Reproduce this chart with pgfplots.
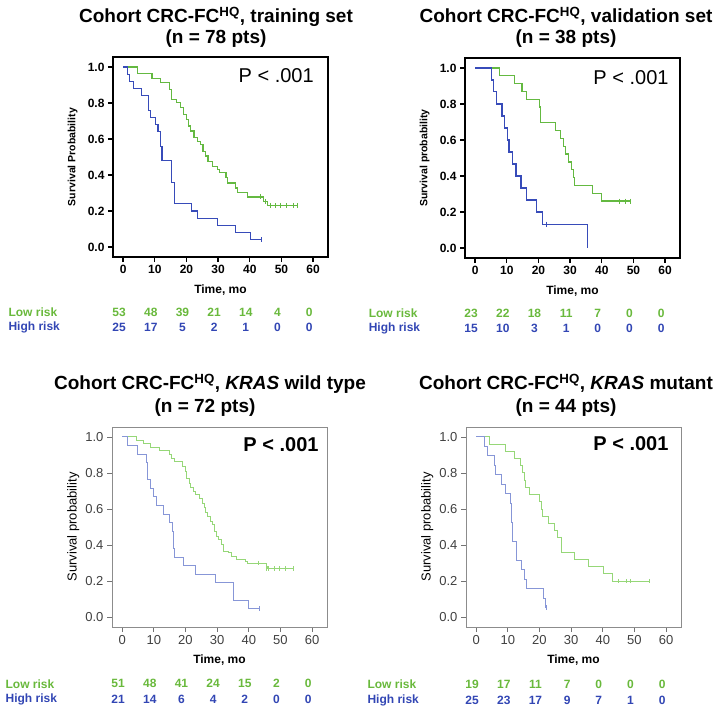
\documentclass[border=0pt]{standalone}
\usepackage{fontspec}
\setmainfont{Liberation Sans}
\usepackage{pgfplots}
\pgfplotsset{compat=1.18}
\definecolor{tg}{RGB}{100,185,65}
\definecolor{tb}{RGB}{55,75,185}
\definecolor{lg}{RGB}{150,215,120}
\definecolor{lb}{RGB}{135,150,215}
\definecolor{rg}{RGB}{105,185,60}
\definecolor{rb}{RGB}{50,70,180}
\newcommand{\riskrow}[9]{%
 \node[text=#1,font=\bfseries\fontsize{12}{12}\selectfont,anchor=center,xshift=-4pt] at (axis cs:0,#2) {#3};
 \node[text=#1,font=\bfseries\fontsize{12}{12}\selectfont,anchor=center,xshift=-4pt] at (axis cs:10,#2) {#4};
 \node[text=#1,font=\bfseries\fontsize{12}{12}\selectfont,anchor=center,xshift=-4pt] at (axis cs:20,#2) {#5};
 \node[text=#1,font=\bfseries\fontsize{12}{12}\selectfont,anchor=center,xshift=-4pt] at (axis cs:30,#2) {#6};
 \node[text=#1,font=\bfseries\fontsize{12}{12}\selectfont,anchor=center,xshift=-4pt] at (axis cs:40,#2) {#7};
 \node[text=#1,font=\bfseries\fontsize{12}{12}\selectfont,anchor=center,xshift=-4pt] at (axis cs:50,#2) {#8};
 \node[text=#1,font=\bfseries\fontsize{12}{12}\selectfont,anchor=center,xshift=-4pt] at (axis cs:60,#2) {#9};
}
\pgfplotsset{
 km/.style={scale only axis, width=215pt, height=200pt,
  xmin=-3.2, xmax=64.7, ymin=-0.055, ymax=1.055,
  xtick={0,10,20,30,40,50,60}, ytick={0,0.2,0.4,0.6,0.8,1},
  tick align=outside, tick pos=left, clip=false,
  major tick length=5pt,
  /pgf/number format/assume math mode=true,
  yticklabel style={/pgf/number format/.cd, fixed, fixed zerofill, precision=1},
  xlabel={Time, mo},
  xlabel style={font=\bfseries\fontsize{12}{12}\selectfont, at={(rel axis cs:0.5,-0.165)}, anchor=center},
 },
 top/.style={km,
  axis line style={black, line width=1.3pt}, tick style={black, line width=1.3pt},
  ticklabel style={font=\bfseries\fontsize{12}{12}\selectfont},
  ylabel style={font=\bfseries\fontsize{10.5}{10.5}\selectfont, at={(rel axis cs:-0.188,0.5)}, anchor=center},
 },
 bot/.style={km,
  axis line style={black!45, line width=0.7pt}, tick style={black!55, line width=0.7pt},
  ticklabel style={font=\fontsize{13}{13}\selectfont, text=black!75},
  ylabel style={font=\fontsize{13}{13}\selectfont, at={(rel axis cs:-0.18,0.5)}, anchor=center},
 },
}
\begin{document}
\begin{tikzpicture}
\useasboundingbox (0,0) rectangle (723pt,-708pt);
% ---------------- Panel 1
\begin{axis}[top, at={(113pt,-257pt)}, anchor=south west, ylabel={Survival Probability}]
\addplot[const plot, tg, line width=1.2pt] coordinates {(0,1)(4.6,0.962)(9.1,0.937)(11.7,0.913)(14.6,0.876)(15.4,0.820)(16.9,0.801)(18.0,0.774)(19.0,0.737)(20.0,0.709)(20.6,0.672)(21.4,0.644)(22.4,0.610)(23.5,0.584)(24.5,0.570)(25.2,0.532)(26.1,0.505)(26.8,0.477)(28.3,0.449)(29.9,0.430)(30.4,0.412)(32.5,0.384)(33.0,0.356)(35.6,0.328)(36.1,0.301)(39.3,0.278)(44.4,0.254)(45.7,0.232)(55.3,0.232)};
\addplot[only marks, mark=|, mark size=2.5pt, tg, line width=1pt] coordinates {(43.4,0.278)(44.9,0.254)(46.5,0.232)(48.1,0.232)(49.6,0.232)(51.7,0.232)(53.8,0.232)(55.0,0.232)};
\addplot[const plot, tb, line width=1.2pt] coordinates {(0,1)(1.35,0.96)(2.1,0.92)(3.4,0.88)(5.8,0.84)(8.1,0.76)(8.6,0.72)(10.2,0.68)(11.0,0.64)(11.7,0.56)(12.3,0.48)(15.4,0.36)(16.2,0.24)(21.6,0.20)(23.5,0.16)(29.7,0.12)(35.6,0.08)(40.1,0.04)(43.6,0.04)};
\addplot[only marks, mark=|, mark size=2.5pt, tb, line width=1pt] coordinates {(43.6,0.04)};
\node[anchor=base east, font=\fontsize{20}{20}\selectfont] at (rel axis cs:0.95,0.87) {P < .001};
\node[anchor=west, text=rg, font=\bfseries\fontsize{12}{12}\selectfont] at (axis cs:-37.3,-0.36) {Low risk};
\node[anchor=west, text=rb, font=\bfseries\fontsize{12}{12}\selectfont] at (axis cs:-37.3,-0.445) {High risk};
\riskrow{rg}{-0.36}{53}{48}{39}{21}{14}{4}{0}
\riskrow{rb}{-0.445}{25}{17}{5}{2}{1}{0}{0}
\end{axis}
% ---------------- Panel 2
\begin{axis}[top, at={(465pt,-258pt)}, anchor=south west, ylabel={Survival probability}]
\addplot[const plot, tg, line width=1.2pt] coordinates {(0,1)(7.8,0.957)(12.4,0.913)(14.8,0.870)(16.3,0.826)(20.2,0.783)(20.7,0.696)(25.3,0.652)(26.9,0.609)(27.9,0.565)(28.5,0.522)(29.5,0.478)(30.5,0.435)(31.0,0.391)(31.5,0.348)(37.0,0.304)(39.8,0.261)(49.3,0.261)};
\addplot[only marks, mark=|, mark size=2.5pt, tg, line width=1pt] coordinates {(45.7,0.261)(47.6,0.261)(49.1,0.261)};
\addplot[const plot, tb, line width=1.2pt] coordinates {(0,1)(5.2,0.933)(5.7,0.867)(6.7,0.8)(8.5,0.733)(9.3,0.667)(10.2,0.6)(10.7,0.533)(11.9,0.467)(12.9,0.4)(14.5,0.333)(16.3,0.267)(19.3,0.2)(21.2,0.133)(35.4,0)};
\addplot[only marks, mark=|, mark size=2.5pt, tb, line width=1pt] coordinates {(22.4,0.133)};
\node[anchor=base east, font=\fontsize{20}{20}\selectfont] at (rel axis cs:0.963,0.867) {P < .001};
\node[anchor=west, text=rg, font=\bfseries\fontsize{12}{12}\selectfont] at (axis cs:-34.7,-0.36) {Low risk};
\node[anchor=west, text=rb, font=\bfseries\fontsize{12}{12}\selectfont] at (axis cs:-34.7,-0.445) {High risk};
\riskrow{rg}{-0.36}{23}{22}{18}{11}{7}{0}{0}
\riskrow{rb}{-0.445}{15}{10}{3}{1}{0}{0}{0}
\end{axis}
% ---------------- Panel 3
\begin{axis}[bot, at={(112pt,-627pt)}, anchor=south west, ylabel={Survival probability}]
\addplot[const plot, lg, line width=0.9pt] coordinates {(0,1)(4.4,0.980)(6.7,0.961)(8.8,0.943)(11.9,0.925)(14.8,0.902)(15.5,0.883)(16.5,0.865)(19.1,0.837)(20.0,0.809)(20.4,0.772)(21.2,0.744)(21.7,0.717)(22.4,0.698)(23.1,0.680)(24.5,0.660)(25.3,0.633)(25.9,0.606)(26.4,0.578)(26.9,0.559)(27.9,0.531)(28.4,0.513)(29.3,0.476)(29.7,0.448)(30.5,0.430)(31.3,0.402)(32.1,0.365)(33.6,0.356)(34.6,0.337)(36.2,0.322)(38.8,0.309)(39.6,0.300)(45.5,0.281)(46.0,0.269)(54.3,0.269)};
\addplot[only marks, mark=|, mark size=2.2pt, lg, line width=0.9pt] coordinates {(43.1,0.300)(45.5,0.269)(46.2,0.269)(48.1,0.269)(49.6,0.269)(51.7,0.269)(54.0,0.269)};
\addplot[const plot, lb, line width=0.9pt] coordinates {(0,1)(1.55,0.952)(4.9,0.905)(7.8,0.857)(7.9,0.810)(8.1,0.762)(9.1,0.714)(10.0,0.667)(10.7,0.619)(12.9,0.571)(15.0,0.524)(16.0,0.476)(16.1,0.429)(16.3,0.381)(16.6,0.333)(19.3,0.286)(23.1,0.238)(29.5,0.190)(35.2,0.095)(40.0,0.048)(43.4,0.048)};
\addplot[only marks, mark=|, mark size=2.2pt, lb, line width=0.9pt] coordinates {(43.4,0.048)};
\node[anchor=base east, font=\bfseries\fontsize{20}{20}\selectfont] at (rel axis cs:0.977,0.879) {P < .001};
\node[anchor=west, text=rg, font=\bfseries\fontsize{12}{12}\selectfont] at (axis cs:-37.9,-0.37) {Low risk};
\node[anchor=west, text=rb, font=\bfseries\fontsize{12}{12}\selectfont] at (axis cs:-37.9,-0.455) {High risk};
\riskrow{rg}{-0.37}{51}{48}{41}{24}{15}{2}{0}
\riskrow{rb}{-0.455}{21}{14}{6}{4}{2}{0}{0}
\end{axis}
% ---------------- Panel 4
\begin{axis}[bot, at={(466pt,-627pt)}, anchor=south west, ylabel={Survival probability}]
\addplot[const plot, lg, line width=0.9pt] coordinates {(0,1)(4.2,0.96)(9.2,0.92)(12.0,0.88)(14.1,0.84)(14.7,0.80)(15.2,0.76)(15.7,0.72)(16.7,0.68)(20.1,0.64)(20.6,0.60)(21.0,0.56)(22.7,0.52)(24.8,0.48)(25.6,0.44)(26.9,0.36)(30.9,0.32)(35.6,0.28)(40.3,0.24)(43.0,0.20)(54.8,0.20)};
\addplot[only marks, mark=|, mark size=2.2pt, lg, line width=0.9pt] coordinates {(45.0,0.20)(47.4,0.20)(48.7,0.20)(54.8,0.20)};
\addplot[const plot, lb, line width=0.9pt] coordinates {(0,1)(2.6,0.947)(3.5,0.895)(5.8,0.842)(6.0,0.789)(8.1,0.737)(9.4,0.684)(10.8,0.632)(11.0,0.579)(11.3,0.526)(11.5,0.474)(11.6,0.421)(12.6,0.368)(12.7,0.316)(14.3,0.263)(15.2,0.211)(16.0,0.158)(21.3,0.105)(22.0,0.053)(22.3,0.053)};
\addplot[only marks, mark=|, mark size=2.2pt, lb, line width=0.9pt] coordinates {(22.3,0.053)};
\node[anchor=base east, font=\bfseries\fontsize{20}{20}\selectfont] at (rel axis cs:0.958,0.884) {P < .001};
\node[anchor=west, text=rg, font=\bfseries\fontsize{12}{12}\selectfont] at (axis cs:-35.4,-0.375) {Low risk};
\node[anchor=west, text=rb, font=\bfseries\fontsize{12}{12}\selectfont] at (axis cs:-35.4,-0.46) {High risk};
\riskrow{rg}{-0.375}{19}{17}{11}{7}{0}{0}{0}
\riskrow{rb}{-0.46}{25}{23}{17}{9}{7}{1}{0}
\end{axis}
% ---------------- Titles
\node[anchor=base, font=\bfseries\fontsize{19}{19}\selectfont] at (216pt,-23pt) {Cohort CRC-FC\textsuperscript{HQ}, training set};
\node[anchor=base, font=\bfseries\fontsize{19}{19}\selectfont] at (216pt,-44pt) {(n = 78 pts)};
\node[anchor=base, font=\bfseries\fontsize{19}{19}\selectfont] at (566pt,-23pt) {Cohort CRC-FC\textsuperscript{HQ}, validation set};
\node[anchor=base, font=\bfseries\fontsize{19}{19}\selectfont] at (566pt,-44pt) {(n = 38 pts)};
\node[anchor=base, font=\bfseries\fontsize{19}{19}\selectfont] at (210pt,-390pt) {Cohort CRC-FC\textsuperscript{HQ}, \textit{KRAS} wild type};
\node[anchor=base, font=\bfseries\fontsize{19}{19}\selectfont] at (205pt,-413pt) {(n = 72 pts)};
\node[anchor=base, font=\bfseries\fontsize{19}{19}\selectfont] at (566pt,-390pt) {Cohort CRC-FC\textsuperscript{HQ}, \textit{KRAS} mutant};
\node[anchor=base, font=\bfseries\fontsize{19}{19}\selectfont] at (566pt,-413pt) {(n = 44 pts)};
\end{tikzpicture}
\end{document}
